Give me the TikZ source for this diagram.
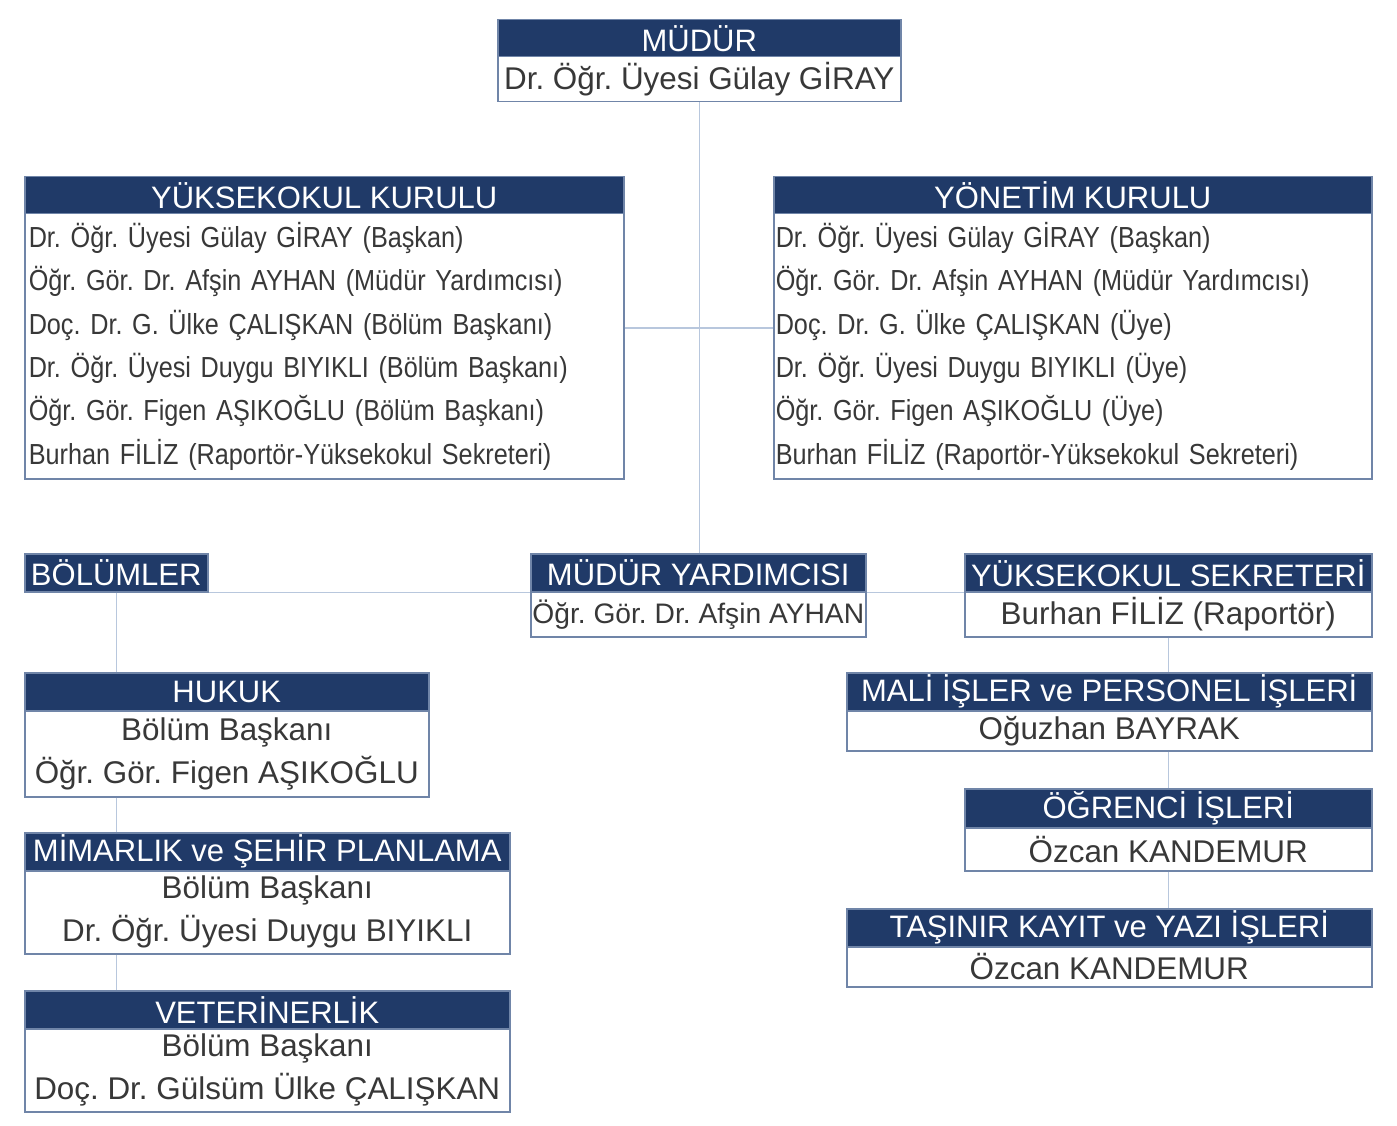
\documentclass[tikz,border=0pt]{standalone}
\usepackage{fontspec}
\setmainfont{Liberation Sans}
\newfontfamily\narrowfont[FakeStretch=0.87]{Liberation Sans}
\usetikzlibrary{calc}
\frenchspacing
\definecolor{navy}{HTML}{203A68}
\definecolor{bordc}{HTML}{7085A8}
\definecolor{connc}{HTML}{B8C7DD}
\definecolor{txt}{HTML}{383838}
\tikzset{
  hdr/.style={draw=bordc, line width=1.5pt, fill=navy, text=white, anchor=north west,
    inner sep=0pt, minimum height=37pt, font=\fontsize{31}{36}\selectfont},
  bodyc/.style={draw=bordc, line width=1.5pt, fill=white, text=txt, anchor=north west,
    inner sep=0pt, align=center, font=\fontsize{31.4}{43}\selectfont},
  bodyl/.style={draw=bordc, line width=1.5pt, fill=white, text=txt, anchor=north west,
    inner xsep=4pt, inner ysep=0pt, align=left, font=\narrowfont\fontsize{29}{43.3}\selectfont},
  conn/.style={draw=connc, line width=1.5pt}
}
\begin{document}
\begin{tikzpicture}[x=1pt,y=-1pt]
\frenchspacing
\useasboundingbox[fill=white] (0,0) rectangle (1397,1126);

% MUDUR
\node[hdr, minimum width=403pt] (mudurH) at (497,19) {MÜDÜR};
\node[bodyc, minimum width=403pt, minimum height=45pt] (mudur) at (497,56) {Dr. Öğr. Üyesi Gülay GİRAY};

% YUKSEKOKUL KURULU
\node[hdr, minimum width=599pt] (ykH) at (24,176) {YÜKSEKOKUL KURULU};
\node[bodyl, text width=591pt, minimum height=265pt] (yk) at (24,213) {%
Dr. Öğr. Üyesi Gülay GİRAY (Başkan)\\
Öğr. Gör. Dr. Afşin AYHAN (Müdür Yardımcısı)\\
Doç. Dr. G. Ülke ÇALIŞKAN (Bölüm Başkanı)\\
Dr. Öğr. Üyesi Duygu BIYIKLI (Bölüm Başkanı)\\
Öğr. Gör. Figen AŞIKOĞLU (Bölüm Başkanı)\\
Burhan FİLİZ (Raportör-Yüksekokul Sekreteri)};

% YONETIM KURULU
\node[hdr, minimum width=598pt] (yonH) at (773,176) {YÖNETİM KURULU};
\node[bodyl, inner xsep=2pt, text width=594pt, minimum height=265pt] (yon) at (773,213) {%
Dr. Öğr. Üyesi Gülay GİRAY (Başkan)\\
Öğr. Gör. Dr. Afşin AYHAN (Müdür Yardımcısı)\\
Doç. Dr. G. Ülke ÇALIŞKAN (Üye)\\
Dr. Öğr. Üyesi Duygu BIYIKLI (Üye)\\
Öğr. Gör. Figen AŞIKOĞLU (Üye)\\
Burhan FİLİZ (Raportör-Yüksekokul Sekreteri)};

% BOLUMLER
\node[hdr, minimum width=183pt, minimum height=38pt] (bol) at (24,553) {BÖLÜMLER};

% MUDUR YARDIMCISI
\node[hdr, minimum width=335pt, minimum height=38pt] (myH) at (530,553) {MÜDÜR YARDIMCISI};
\node[bodyc, font=\fontsize{28.2}{43}\selectfont, minimum width=335pt, minimum height=45pt] (my) at (530,591) {Öğr. Gör. Dr. Afşin AYHAN};

% YUKSEKOKUL SEKRETERI
\node[hdr, minimum width=407pt, minimum height=38pt] (ysH) at (964,553) {YÜKSEKOKUL SEKRETERİ};
\node[bodyc, minimum width=407pt, minimum height=45pt] (ys) at (964,591) {Burhan FİLİZ (Raportör)};

% HUKUK
\node[hdr, minimum width=404pt, minimum height=38pt] (hukH) at (24,672) {HUKUK};
\node[bodyc, minimum width=404pt, minimum height=86pt] (huk) at (24,710) {Bölüm Başkanı\\Öğr. Gör. Figen AŞIKOĞLU};

% MIMARLIK
\node[hdr, minimum width=485pt, minimum height=38pt] (mimH) at (24,832) {MİMARLIK ve ŞEHİR PLANLAMA};
\node[bodyc, minimum width=485pt, minimum height=83pt] (mim) at (24,870) {Bölüm Başkanı\\Dr. Öğr. Üyesi Duygu BIYIKLI};

% VETERINERLIK
\node[hdr, minimum width=485pt, minimum height=38pt] (vetH) at (24,990) {VETERİNERLİK};
\node[bodyc, minimum width=485pt, minimum height=83pt] (vet) at (24,1028) {Bölüm Başkanı\\Doç. Dr. Gülsüm Ülke ÇALIŞKAN};

% MALI ISLER
\node[hdr, minimum width=525pt, minimum height=38pt] (maliH) at (846,672) {MALİ İŞLER ve PERSONEL İŞLERİ};
\node[bodyc, minimum width=525pt, minimum height=40pt] (mali) at (846,710) {Oğuzhan BAYRAK};

% OGRENCI ISLERI
\node[hdr, minimum width=407pt, minimum height=39pt] (ogrH) at (964,788) {ÖĞRENCİ İŞLERİ};
\node[bodyc, minimum width=407pt, minimum height=43pt] (ogr) at (964,827) {Özcan KANDEMUR};

% TASINIR
\node[hdr, minimum width=525pt, minimum height=38pt] (tasH) at (846,908) {TAŞINIR KAYIT ve YAZI İŞLERİ};
\node[bodyc, minimum width=525pt, minimum height=40pt] (tas) at (846,946) {Özcan KANDEMUR};

% connectors
\draw[conn] (mudur.south) -- (mudur.south |- myH.north);
\draw[conn] ($(ykH.north east)!.5!(yk.south east)$) -- ($(yonH.north west)!.5!(yon.south west)$);
\draw[conn] (bol.south east) -- (myH.south west);
\draw[conn] (myH.south east) -- (ysH.south west);
\draw[conn] (bol.south) -- (bol.south |- hukH.north);
\draw[conn] (bol.south |- huk.south) -- (bol.south |- mimH.north);
\draw[conn] (bol.south |- mim.south) -- (bol.south |- vetH.north);
\draw[conn] (ys.south) -- (ys.south |- maliH.north);
\draw[conn] (ys.south |- mali.south) -- (ys.south |- ogrH.north);
\draw[conn] (ys.south |- ogr.south) -- (ys.south |- tasH.north);
\end{tikzpicture}
\end{document}
